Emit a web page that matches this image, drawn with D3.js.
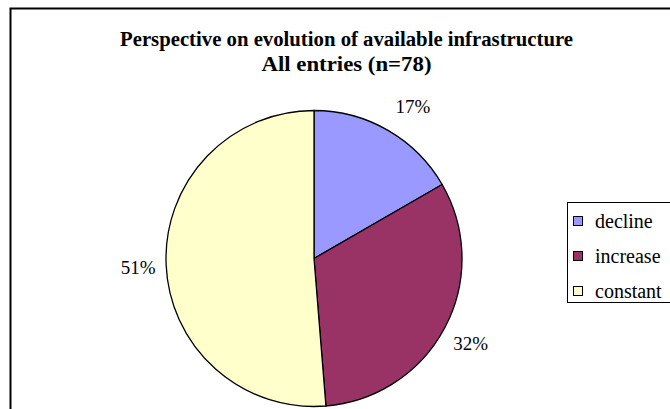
<!DOCTYPE html>
<html><head><meta charset="utf-8">
<script src="https://cdn.jsdelivr.net/npm/d3@7"></script>
<style>html,body{margin:0;padding:0;background:#fff;}
text{font-family:"Liberation Serif","DejaVu Serif",serif;}</style>
</head><body>
<svg id="c" width="670" height="409"></svg>
<script>
const titleLines = ["Perspective on evolution of available infrastructure", "All entries (n=78)"];
const categories = ["decline", "increase", "constant"];
const counts = [13, 25, 40];
const labels = ["17%", "32%", "51%"];
const colors = ["#9999FF", "#993366", "#FFFFCC"];

const svg = d3.select("#c");

// chart area border (extends past window right/bottom)
svg.append("rect").attr("x", 10.5).attr("y", 8.5).attr("width", 700).attr("height", 450)
  .attr("fill", "#fff").attr("stroke", "#000").attr("stroke-width", 2);

// title
const tWidths = [453, 170];
titleLines.forEach((t, i) => {
  svg.append("text").attr("x", 346.5).attr("y", 46 + i * 25)
    .attr("text-anchor", "middle")
    .attr("font-weight", "bold").attr("font-size", 20)
    .attr("textLength", tWidths[i]).attr("lengthAdjust", "spacingAndGlyphs")
    .text(t);
});

const cx = 314, cy = 258.5, r = 148;
const pie = d3.pie().sort(null).value(d => d)(counts);
const arc = d3.arc().innerRadius(0).outerRadius(r);
const g = svg.append("g").attr("transform", `translate(${cx},${cy})`);
g.selectAll("path").data(pie).join("path")
  .attr("d", arc).attr("fill", (d, i) => colors[i])
  .attr("stroke", "#000").attr("stroke-width", 1.3).attr("stroke-linejoin", "round");

// percentage labels
const labelArc = d3.arc().innerRadius(r + 30).outerRadius(r + 30);
g.selectAll("text.lbl").data(pie).join("text").attr("class", "lbl")
  .attr("x", d => labelArc.centroid(d)[0] + (d.index === 0 ? 10 : d.index === 2 ? 2 : -1))
  .attr("y", d => labelArc.centroid(d)[1])
  .attr("dy", "0.45em")
  .attr("text-anchor", "middle").attr("font-size", 19)
  .text((d, i) => labels[i]);

// legend
const lg = svg.append("g").attr("transform", "translate(567,202)");
lg.append("rect").attr("x", 0.5).attr("y", 0.5).attr("width", 200).attr("height", 100)
  .attr("fill", "#fff").attr("stroke", "#000").attr("stroke-width", 1);
const y0 = d3.scalePoint().domain(categories).range([19, 89]);
categories.forEach((c, i) => {
  lg.append("rect").attr("x", 6.5).attr("y", y0(c) - 4.5).attr("width", 9).attr("height", 9)
    .attr("fill", colors[i]).attr("stroke", "#000").attr("stroke-width", 1);
  lg.append("text").attr("x", 28).attr("y", y0(c) + 7)
    .attr("font-size", 20).text(c);
});
</script>
</body></html>
